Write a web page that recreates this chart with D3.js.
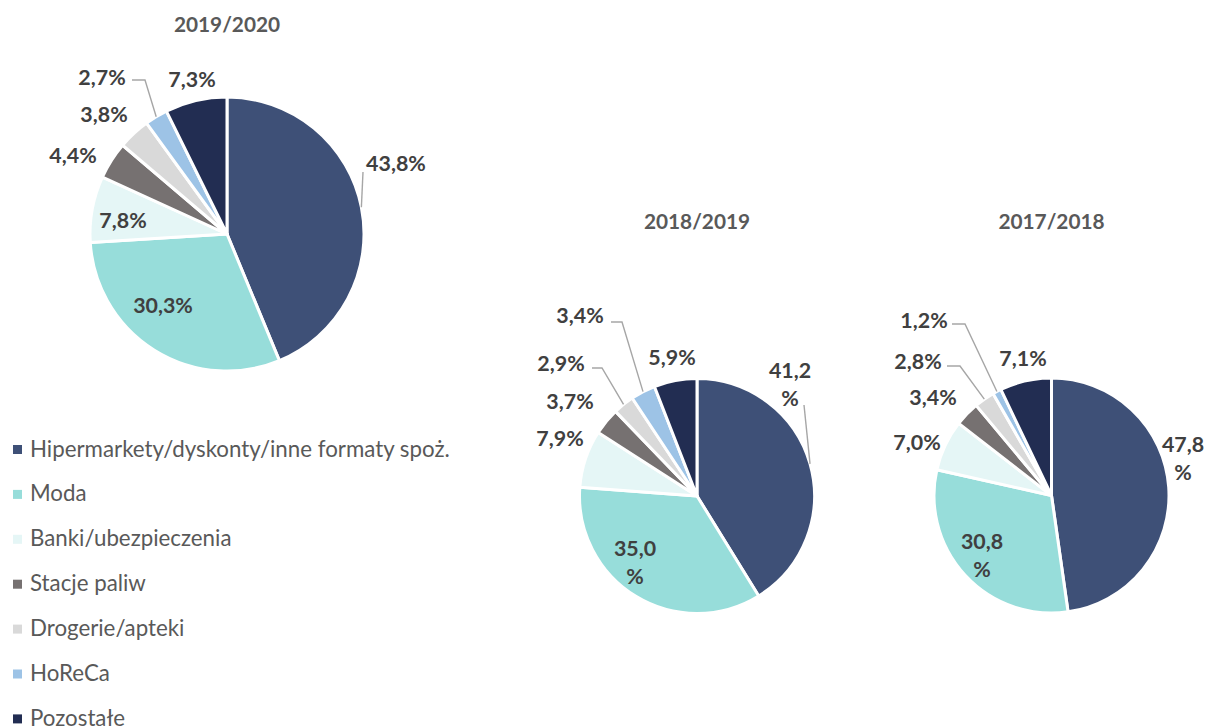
<!DOCTYPE html>
<html>
<head>
<meta charset="utf-8">
<script src="https://cdn.jsdelivr.net/npm/d3@7/dist/d3.min.js"></script>
<style>
  html, body { margin: 0; padding: 0; background: #fff; }
  svg { display: block; font-family: Lato, "Open Sans", sans-serif; }
</style>
</head>
<body>
<svg id="chart" width="1208" height="726"></svg>
<script>
// --- data
const categories = [
  "Hipermarkety/dyskonty/inne formaty spoż.",
  "Moda",
  "Banki/ubezpieczenia",
  "Stacje paliw",
  "Drogerie/apteki",
  "HoReCa",
  "Pozostałe"
];
const seasons = ["2019/2020", "2018/2019", "2017/2018"];
const share2019_2020 = [43.8, 30.3, 7.8, 4.4, 3.8, 2.7, 7.3];
const share2018_2019 = [41.2, 35.0, 7.9, 3.7, 2.9, 3.4, 5.9];
const share2017_2018 = [47.8, 30.8, 7.0, 3.4, 2.8, 1.2, 7.1];
const seriesValues = [share2019_2020, share2018_2019, share2017_2018];

// palette (same order as categories)
const COLORS = ["#3e5077", "#97ddda", "#e5f6f6", "#767171", "#d9d9d9", "#9dc3e6", "#222d52"];

// --- layout (label offsets from pie centre, by category index)
const PIES = [
  { cx: 227, cy: 234, r: 137, titleY: 25, labels: [
    { dx: 169, dy: -71, leader: [[136, -62]] },
    { dx: -64, dy: 71 },
    { dx: -104, dy: -14 },
    { dx: -154, dy: -79 },
    { dx: -123, dy: -120 },
    { dx: -125, dy: -157, leader: [[-95, -154], [-82, -154]] },
    { dx: -35, dy: -155 }
  ]},
  { cx: 697, cy: 496, r: 117.5, titleY: 222, labels: [
    { dx: 93, dy: -111.5, wrap: true, leader: [[107, -91]] },
    { dx: -62, dy: 66, wrap: true },
    { dx: -137, dy: -58 },
    { dx: -127, dy: -95 },
    { dx: -136, dy: -133, leader: [[-105, -128], [-95, -128]] },
    { dx: -117, dy: -181, leader: [[-86, -174], [-75, -174]] },
    { dx: -25, dy: -139 }
  ]},
  { cx: 1051.5, cy: 495.5, r: 117.5, titleY: 222, labels: [
    { dx: 131.5, dy: -37, wrap: true },
    { dx: -69.5, dy: 59.5, wrap: true },
    { dx: -134.5, dy: -53.5 },
    { dx: -118.5, dy: -98.5 },
    { dx: -133.5, dy: -134.5, leader: [[-104.5, -129.5], [-91.5, -129.5]] },
    { dx: -127.5, dy: -175.5, leader: [[-99.5, -171.5], [-86.5, -171.5]] },
    { dx: -28.5, dy: -137.5 }
  ]}
];

const svg = d3.select("#chart");
const color = d3.scaleOrdinal().domain(categories).range(COLORS);
const fmt = (v) => d3.format(".1f")(v).replace(".", ",");

const pie = d3.pie().sort(null).value((d) => d.value);

seasons.forEach((season, si) => {
  const cfg = PIES[si];
  const data = categories.map((c, i) => ({ key: c, value: seriesValues[si][i], i }));
  const arcs = pie(data);
  const arc = d3.arc().innerRadius(0).outerRadius(cfg.r);

  const g = svg.append("g").attr("transform", `translate(${cfg.cx},${cfg.cy})`);

  // title
  svg.append("text")
    .attr("x", cfg.cx)
    .attr("y", cfg.titleY)
    .attr("dy", "0.36em")
    .attr("text-anchor", "middle")
    .style("font-size", "20.8px")
    .style("font-weight", 700)
    .style("fill", "#595959")
    .text(season);

  // slices
  g.selectAll("path.slice")
    .data(arcs)
    .join("path")
    .attr("class", "slice")
    .attr("d", arc)
    .attr("fill", (d) => color(d.data.key))
    .attr("stroke", "#fff")
    .attr("stroke-width", 3)
    .attr("stroke-linejoin", "round");

  // leader lines: elbow points from layout, end point on the slice edge
  arcs.forEach((d) => {
    const lab = cfg.labels[d.data.i];
    if (!lab.leader) return;
    const mid = (d.startAngle + d.endAngle) / 2;
    const end = [Math.sin(mid) * cfg.r, -Math.cos(mid) * cfg.r];
    g.append("path")
      .attr("d", d3.line()([...lab.leader, end]))
      .attr("fill", "none")
      .attr("stroke", "#a6a6a6")
      .attr("stroke-width", 1.4);
  });

  // value labels
  arcs.forEach((d) => {
    const lab = cfg.labels[d.data.i];
    const txt = g.append("text")
      .attr("text-anchor", "middle")
      .style("font-size", "21.4px")
      .style("font-weight", 700)
      .style("fill", "#404040");
    const s = fmt(d.data.value);
    if (lab.wrap) {
      txt.append("tspan").attr("x", lab.dx).attr("y", lab.dy - 14).attr("dy", "0.36em").text(s);
      txt.append("tspan").attr("x", lab.dx).attr("y", lab.dy + 14).attr("dy", "0.36em").text("%");
    } else {
      txt.attr("x", lab.dx).attr("y", lab.dy).attr("dy", "0.36em").text(s + "%");
    }
  });
});

// legend
const legend = svg.append("g").attr("transform", "translate(13,456.5)");
const item = legend.selectAll("g.item")
  .data(categories)
  .join("g")
  .attr("class", "item")
  .attr("transform", (d, i) => `translate(0,${i * 44.9})`);
item.append("rect")
  .attr("x", 0).attr("y", -11.5)
  .attr("width", 9).attr("height", 9)
  .attr("fill", (d) => color(d));
item.append("text")
  .attr("x", 17).attr("y", 0)
  .style("font-size", "22.3px")
  .style("fill", "#595959")
  .text((d) => d);
</script>
</body>
</html>
